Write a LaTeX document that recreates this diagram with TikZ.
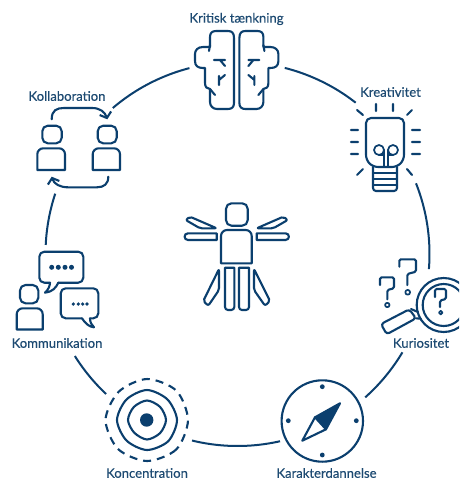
\documentclass[tikz,border=0pt]{standalone}
\usepackage{fontspec}
\setmainfont{Lato}
\usetikzlibrary{arrows.meta}
\definecolor{navy}{HTML}{0B3F6E}
\definecolor{labelc}{HTML}{1D4A72}
\tikzset{
  icon/.style={draw=navy,line width=2.1pt,line join=round,line cap=round},
  thin icon/.style={draw=navy,line width=1.7pt,line join=round,line cap=round},
  ring/.style={draw=navy,line width=2pt,line cap=butt},
  lab/.style={text=labelc,font=\fontsize{13.1}{15}\selectfont\addfontfeatures{FakeBold=0.3},inner sep=0pt},
  dotf/.style={fill=navy},
  barb/.style={-{Straight Barb[length=5pt,width=12pt,line width=2.1pt]}}
}
\newcommand{\ringarc}[2]{\draw[ring,shift={(237.5,254)}] plot[domain=#1:#2,samples=40] ({192*cos(\x)},{192*sin(\x)});}
\newcommand{\brainhalf}{%
  \draw[icon] (234,38) .. controls (234,33) and (232,31) .. (228,31) -- (216,31) .. controls (212,31) and (210,33) .. (210,37) -- (210,47)
     -- (203,47) .. controls (198,47) and (195,50) .. (195,54) -- (195,61) .. controls (195,66) and (198,68) .. (203,68) -- (205,68) -- (205,83)
     .. controls (205,87) and (207,89) .. (210,89) -- (210,102) .. controls (210,106) and (213,109) .. (217,109) -- (228,109) .. controls (232,109) and (234,107) .. (234,103) -- cycle;
  \draw[icon] (210,45) -- (209,51);
  \draw[icon] (214,60) -- (225,60) (220,60) -- (225,66);
  \draw[icon] (219,76) -- (219,85) (219,80) -- (225,75);
  \draw[icon] (210,89) -- (215,95);
}
\newcommand{\persona}[4]{%
  \draw[icon,rounded corners=5.5pt] (#1,#2) rectangle (#3,#4);
}
\newcommand{\bodya}[4]{%
  \draw[icon] (#1,#4) [rounded corners=6pt] -- (#1,#2) -- (#3,#2) [sharp corners] -- (#3,#4) -- cycle;
}
\begin{document}
\begin{tikzpicture}[x=1pt,y=-1pt]
\path[use as bounding box,clip] (0,0) rectangle (459,480);
\fill[white] (0,0) rectangle (459,480);

% ring
\ringarc{-75.75}{-52}
\ringarc{-21.6}{4.5}
\ringarc{30.8}{48.3}
\ringarc{77.2}{103.7}
\ringarc{133.2}{147.9}
\ringarc{182.7}{198.3}
\ringarc{229.5}{255.5}

% labels
\node[lab] (kritisk) at (236.5,19) {Kritisk tænkning};
\node[lab] (kreativitet) at (390.5,92) {Kreativitet};
\node[lab] (kuriositet) at (421,343) {Kuriositet};
\node[lab] (karakter) at (326.5,473) {Karakterdannelse};
\node[lab] (koncentration) at (147,473) {Koncentration};
\node[lab] (kommunikation) at (57,343) {Kommunikation};
\node[lab] (kollaboration) at (67,96) {Kollaboration};

% brain
\brainhalf
\begin{scope}[xshift=473.4pt,xscale=-1]
\brainhalf
\end{scope}

% bulb
\draw[icon,rounded corners=5pt] (366,118) -- (404,118) -- (404,160) -- (397,167) -- (373,167) -- (366,160) -- cycle;
\draw[icon,rounded corners=3pt] (373,167) -- (373,191) -- (397,191) -- (397,167);
\draw[thin icon] (373,173) -- (397,173) (373,179) -- (397,179) (373,185) -- (397,185);
\draw[thin icon] (379,150) circle[radius=5];
\draw[thin icon] (393,150) circle[radius=5];
\draw[thin icon] (384,150) -- (384,167) (388,150) -- (388,167) (379,155) -- (384,155) (388,155) -- (393,155);
\draw[icon] (376,104) -- (376,111) (393,104) -- (393,111)
  (357,110) -- (363,115) (412,110) -- (407,115)
  (351,130) -- (358,130) (351,142) -- (358,142) (351,154) -- (358,154)
  (412,130) -- (420,130) (412,142) -- (420,142) (412,154) -- (420,154)
  (357,175) -- (363,169) (412,175) -- (407,169);

% magnifier
\draw[icon] (443.7,305) circle[radius=27];
\draw[icon] (443.7,305) circle[radius=21];
\draw[icon,rounded corners=3pt] (409.3,309.3) -- (416,318.3) -- (386.7,334.3) -- (381,324) -- cycle;
\draw[icon] (411,309) -- (418,312) (416,318.3) -- (420.7,318.7);
\draw[icon,rounded corners=1.5pt] (435,297) -- (435,289) -- (446,289) -- (446,299) -- (440,300.5) -- (440,307);
\draw[thin icon] (440.7,312.6) circle[radius=1.8];
\draw[icon,rounded corners=1.5pt] (399.3,266.7) -- (399.3,259.3) -- (416,259.3) -- (416,271.7) -- (407.3,274) -- (407.3,285);
\draw[thin icon] (407.7,292.3) circle[radius=2.4];
\draw[icon,rounded corners=1.5pt] (380,285) -- (380,277.3) -- (394,277.3) -- (394,288.3) -- (387.3,290) -- (387.3,299.3);
\draw[thin icon] (387.3,305) circle[radius=2.2];

% compass
\draw[icon] (322.3,421) circle[radius=40.7];
\fill[dotf] (322.3,386.7) circle[radius=2.4] (322.3,455) circle[radius=2.4] (288.3,420.7) circle[radius=2.4] (356.3,420.7) circle[radius=2.4];
\draw[icon,fill=navy] (315,417.3) -- (340,403.3) -- (326,429.3) -- cycle;
\draw[icon] (315,417.3) -- (302.3,440.7) -- (326,429.3);

% concentration
\fill[dotf] (146.7,420) circle[radius=6.7];
\draw[icon,shift={(147,420)}] plot[smooth cycle] coordinates {(0:19) (45:18.5) (90:19.5) (135:18) (180:19) (225:18.5) (270:19.5) (315:18.5)};
\draw[icon,shift={(147,420)}] plot[smooth cycle] coordinates {(0:30) (45:30) (90:30) (135:29) (180:30) (225:29) (270:30) (315:29)};
\draw[icon,line cap=butt,dash pattern=on 8pt off 6pt,shift={(147,420)}] plot[smooth cycle] coordinates {(0:41) (45:41.5) (90:41) (135:41) (180:41.5) (225:40) (270:41) (315:41.5)};

% communication
\draw[icon,rounded corners=5pt] (50,282.7) -- (39.3,282.7) -- (39.3,251.7) -- (83.3,251.7) -- (83.3,282.7) -- (58.3,282.7);
\draw[icon] (58.3,282.7) .. controls (56,288) and (52,292) .. (45,292.7) .. controls (48,290) and (50,286) .. (50,282.7);
\fill[dotf] (51.7,267.3) circle[radius=2.5] (58.3,267.3) circle[radius=2.5] (65,267.3) circle[radius=2.5] (71.5,267.3) circle[radius=2.5];
\draw[icon,rounded corners=5pt] (82,318.3) -- (60.7,318.3) -- (60.7,288.3) -- (98.3,288.3) -- (98.3,318.3) -- (90,318.3);
\draw[icon] (82,318.3) .. controls (85,323) and (89,327) .. (94,327.3) .. controls (91.5,325) and (90,322) .. (90,318.3);
\fill[dotf] (73.3,304) circle[radius=1.8] (78.3,304) circle[radius=1.8] (82.7,304) circle[radius=1.8] (87,304) circle[radius=1.8];
\persona{20}{285}{38.3}{303.3}
\bodya{16.7}{308.3}{42.7}{329.5}

% collaboration
\persona{42.3}{125.7}{61.7}{143.3}
\bodya{37.3}{148.3}{65}{170}
\persona{97.7}{125.7}{116.7}{143.3}
\bodya{92.7}{148.3}{120}{170}
\draw[icon,barb] (51.7,119.3) .. controls (51.7,110) and (57,108) .. (64,108) -- (92,108) .. controls (100,108) and (105,112) .. (107.3,119.3);
\draw[icon,barb] (108.3,176.7) .. controls (108.3,184) and (104,187.3) .. (97,187.3) -- (68,187.3) .. controls (60,187.3) and (54,184) .. (51.7,176.7);

% figure
\persona{226}{203.3}{247.7}{225.7}
\bodya{221}{230}{251.7}{263.3}
\draw[icon] (216.7,233.3) -- (216.7,240) -- (188,240) .. controls (183.5,240) and (183.5,233.3) .. (188,233.3) -- cycle;
\draw[icon] (256.7,233.3) -- (256.7,240) -- (285.5,240) .. controls (290,240) and (290,233.3) .. (285.5,233.3) -- cycle;
\draw[icon,rounded corners=2pt] (216.7,228.3) -- (190,216.7) -- (185.7,220) -- (200,228.3) -- cycle;
\draw[icon,rounded corners=2pt] (256.7,228.3) -- (283.3,216.7) -- (287.7,220) -- (273.3,228.3) -- cycle;
\draw[icon] (225,267.7) [rounded corners=3pt] -- (225,310) -- (234.3,310) [sharp corners] -- (234.3,267.7) -- cycle;
\draw[icon] (239,267.7) [rounded corners=3pt] -- (239,310) -- (249,310) [sharp corners] -- (249,267.7) -- cycle;
\draw[icon,rounded corners=2pt] (219,269) -- (203.3,301) -- (208.3,305.7) -- (219,290) -- cycle;
\draw[icon,rounded corners=2pt] (254,269) -- (270,301) -- (265,305.7) -- (254,290) -- cycle;
\end{tikzpicture}
\end{document}
